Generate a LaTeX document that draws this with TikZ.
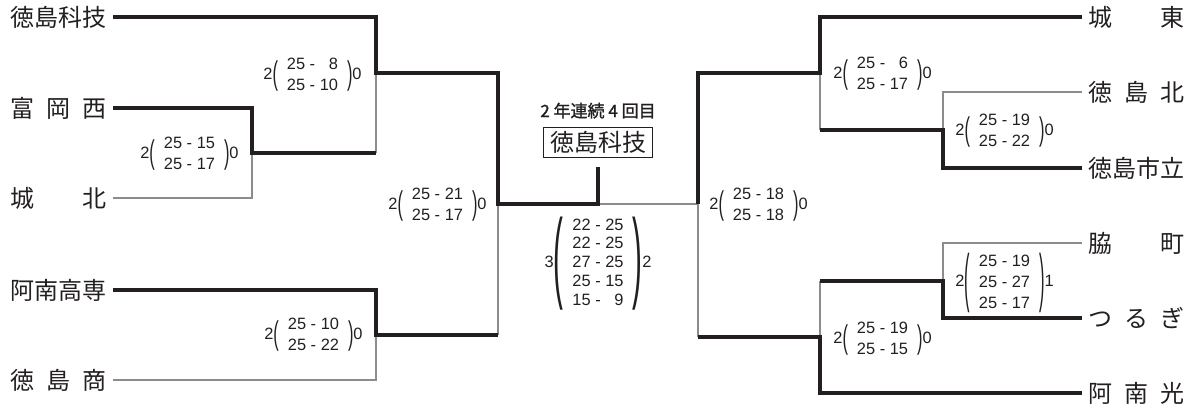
\documentclass[tikz,border=0pt]{standalone}
\usepackage{fontspec}
\usepackage{xcolor}
\usepackage{graphicx}
\usepackage{tikz}
\usetikzlibrary{positioning}
\newfontfamily\cjk{Noto Sans CJK JP}
\newfontfamily\cjkb[FakeBold=1.5]{Noto Sans CJK JP}
\newfontfamily\skorfont{Liberation Sans}
\definecolor{garis}{HTML}{231F20}
\definecolor{abu}{HTML}{8C8C8C}
\tikzstyle{team} = [inner xsep=3pt, inner ysep=1pt, text=garis, font=\cjk\fontsize{12}{12}\selectfont]
\tikzstyle{win} = [line width=2pt, draw=garis]
\tikzstyle{lose} = [line width=0.6pt, draw=abu]
\tikzstyle{score} = [inner sep=0pt, text=garis, font=\skorfont\fontsize{8.2}{10.5}\selectfont]
\tikzstyle{champ} = [rectangle, draw=garis, line width=0.6pt, inner sep=0pt, minimum width=54.5pt, minimum height=15pt, text=garis, font=\cjk\fontsize{12}{12}\selectfont]
\newcommand{\spread}[1]{\makebox[4em][s]{#1}}
% [#1] lebar kurung, #2 kiri, #3 baris skor, #4 kanan, #5 tinggi kurung
\newcommand{\skor}[5][1]{$\mbox{#2}\vcenter{\hbox{\scalebox{#1}[#5]{(}}}\begin{tabular}{@{\hspace{4.5pt}}r@{~-~}r@{\hspace{4.5pt}}}#3\end{tabular}\vcenter{\hbox{\scalebox{#1}[#5]{)}}}\mbox{#4}$}

\begin{document}
\begin{tikzpicture}[x=0.5pt, y=-0.5pt]
	\useasboundingbox (0,0) rectangle (1196,410);
	% tim sebelah kiri
	\node (kagi) [team, anchor=east] at (113,17) {徳島科技};
	\node (tomioka) [team, anchor=east] at (113,108) {\spread{富\hfill 岡\hfill 西}};
	\node (johoku) [team, anchor=east] at (113,198) {\spread{城\hfill 北}};
	\node (anankosen) [team, anchor=east] at (113,290) {阿南高専};
	\node (shogyo) [team, anchor=east] at (113,380) {\spread{徳\hfill 島\hfill 商}};
	% tim sebelah kanan
	\node (joto) [team, anchor=west] at (1082,17) {\spread{城\hfill 東}};
	\node (kita) [team, anchor=west] at (1082,92) {\spread{徳\hfill 島\hfill 北}};
	\node (shiritsu) [team, anchor=west] at (1082,168) {徳島市立};
	\node (wakimachi) [team, anchor=west] at (1082,243) {\spread{脇\hfill 町}};
	\node (tsurugi) [team, anchor=west] at (1082,318) {\spread{つ\hfill る\hfill ぎ}};
	\node (ananko) [team, anchor=west] at (1082,393) {\spread{阿\hfill 南\hfill 光}};

	% titik pertemuan
	\coordinate (L1) at (252,153);
	\coordinate (L2) at (376,73);
	\coordinate (L3) at (376,335);
	\coordinate (L4) at (498,204);
	\coordinate (F) at (598,204);     % final
	\coordinate (top) at (598,167);
	\coordinate (R1) at (943,130);
	\coordinate (R2) at (820,73);
	\coordinate (R3) at (943,281);
	\coordinate (R4) at (820,337);
	\coordinate (R5) at (698,204);

	% juara
	\node (juara) [champ] at (598,142.5) {徳島科技};
	\node (judul) [above=4pt of juara, inner sep=0pt, text=garis, font=\cjkb\fontsize{8.5}{10}\selectfont] {2 年連続 4 回目};

	% skor
	\node (s1) [score, left=6.5pt of L1, yshift=-1pt] {\skor{2}{25 & 15\\ 25 & 17}{0}{2}};
	\node (s2) [score, left=7pt of L2, yshift=-1.5pt] {\skor{2}{25 & 8\\ 25 & 10}{0}{2}};
	\node (s3) [score, left=6.5pt of L3, yshift=-0.5pt] {\skor{2}{25 & 10\\ 25 & 22}{0}{2}};
	\node (s4) [score, left=5.5pt of L4, yshift=-1pt] {\skor{2}{25 & 21\\ 25 & 17}{0}{2}};
	\node (sf) [score, font=\skorfont\fontsize{8.2}{9.4}\selectfont] at (598,264) {\skor[1.8]{3}{22 & 25\\ 22 & 25\\ 27 & 25\\ 25 & 15\\ 15 & 9}{2}{6.1}};
	\node (s5) [score, right=5.5pt of R5, yshift=-1pt] {\skor{2}{25 & 18\\ 25 & 18}{0}{2}};
	\node (s6) [score, right=6.5pt of R2, yshift=-1pt] {\skor{2}{25 & 6\\ 25 & 17}{0}{2}};
	\node (s7) [score, right=6pt of R1, yshift=-1pt] {\skor{2}{25 & 19\\ 25 & 22}{0}{2}};
	\node (s8) [score, right=6pt of R3, yshift=-1pt] {\skor{2}{25 & 19\\ 25 & 27\\ 25 & 17}{1}{3.9}};
	\node (s9) [score, right=6.5pt of R4, yshift=-1.5pt] {\skor{2}{25 & 19\\ 25 & 15}{0}{2}};

	% garis kalah
	\draw [lose] (johoku.east) -| (L1);
	\draw [lose] (L1 -| L2) -- (L2);
	\draw [lose] (shogyo.east) -| (L3);
	\draw [lose] (L3 -| L4) -- (L4);
	\draw [lose] (F) -- (R5);
	\draw [lose] (kita.west) -| (R1);
	\draw [lose] (R1 -| R2) -- (R2);
	\draw [lose] (wakimachi.west) -| (R3);
	\draw [lose] (R3 -| R4) -- (R4);
	\draw [lose] (R4 -| R5) -- (R5);

	% garis menang
	\draw [win] (kagi.east) -| (L2) -| (L4) -- (F) -- (top);
	\draw [win] (tomioka.east) -| (L1) -- (L1 -| L2);
	\draw [win] (anankosen.east) -| (L3) -- (L3 -| L4);
	\draw [win] (joto.west) -| (R2) -| (R5);
	\draw [win] (shiritsu.west) -| (R1) -- (R1 -| R2);
	\draw [win] (tsurugi.west) -| (R3) -- (R3 -| R4);
	\draw [win] (ananko.west) -| (R4) -- (R4 -| R5);
\end{tikzpicture}
\end{document}
